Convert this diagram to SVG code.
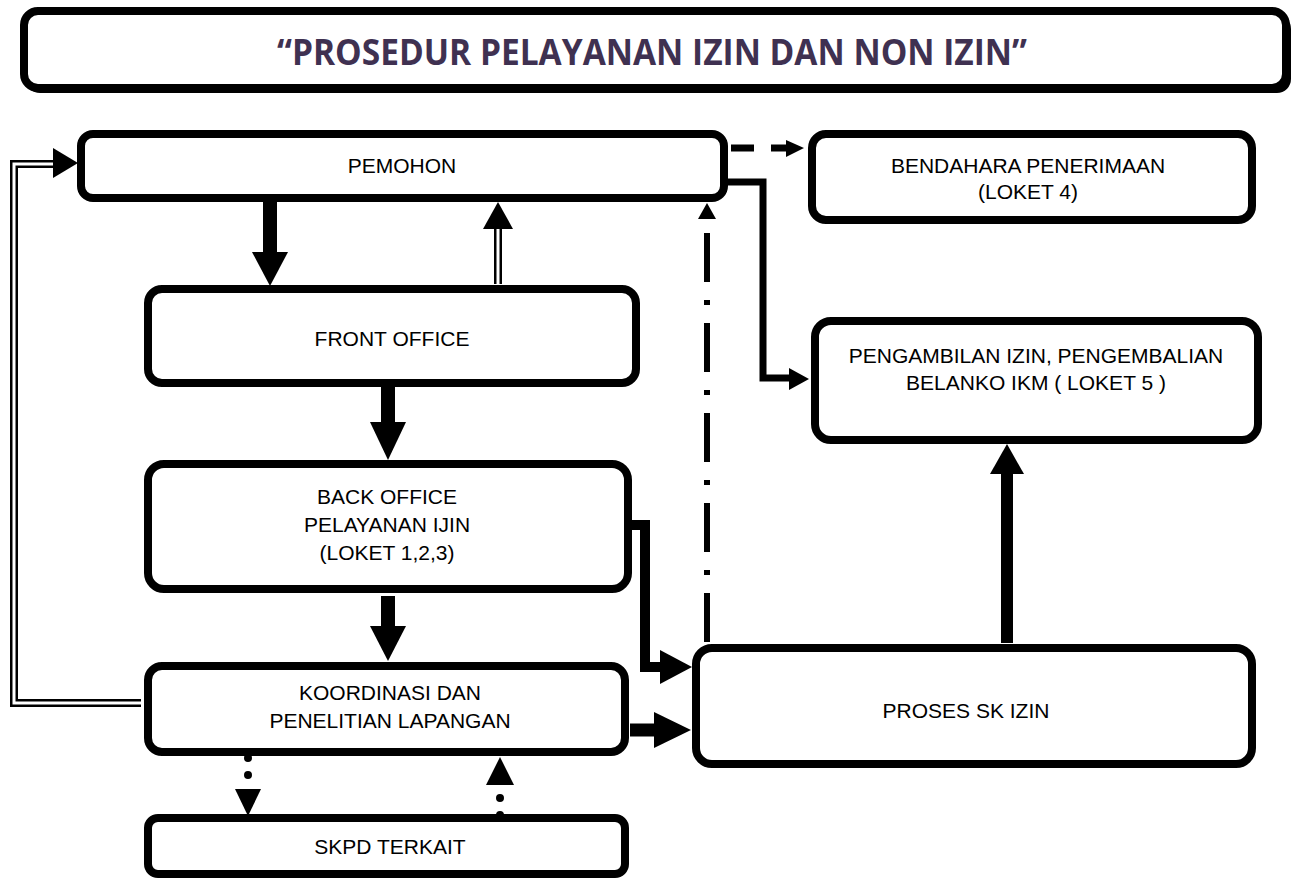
<svg xmlns="http://www.w3.org/2000/svg" width="1297" height="878" viewBox="0 0 1297 878">
<style>
.box{fill:#fff;stroke:#000;stroke-width:8}
.t{font-family:"Liberation Sans",Arial,sans-serif;font-size:21px;fill:#000;text-anchor:middle}
.title{font-family:"Open Sans","Liberation Sans",sans-serif;font-weight:bold;font-size:36px;fill:#3f3151;text-anchor:middle}
.dbl-o{fill:none;stroke:#000;stroke-width:8}
.dbl-i{fill:none;stroke:#fff;stroke-width:3}
.head{fill:#000}
</style>
<g id="title">
<rect x="26" y="15" width="1265" height="78" rx="14" fill="#000"/>
<rect x="24" y="11" width="1262" height="77" rx="14" class="box"/>
<text x="652" y="65" class="title" textLength="750" lengthAdjust="spacingAndGlyphs">“PROSEDUR PELAYANAN IZIN DAN NON IZIN”</text>
</g>
<g id="connectors">
<line x1="270" y1="200" x2="270" y2="254" stroke="#000" stroke-width="14"/>
<polygon class="head" points="252,252 288,252 270,286"/>
<line x1="498" y1="284" x2="498" y2="226" class="dbl-o"/>
<line x1="498" y1="285" x2="498" y2="225" class="dbl-i"/>
<polygon class="head" points="483,229 513,229 498,202"/>
<line x1="388" y1="386" x2="388" y2="424" stroke="#000" stroke-width="14"/>
<polygon class="head" points="370,422 406,422 388,460"/>
<line x1="388" y1="596" x2="388" y2="628" stroke="#000" stroke-width="14"/>
<polygon class="head" points="370,626 406,626 388,661"/>
<path d="M141,703 H14 V164 H58" class="dbl-o"/>
<path d="M142,703 H14 V164 H58" class="dbl-i"/>
<polygon class="head" points="53,148 53,178 78,163"/>
<line x1="731" y1="148" x2="790" y2="148" stroke="#000" stroke-width="7" stroke-dasharray="23 17"/>
<polygon class="head" points="786,140 786,157 804,148"/>
<path d="M728,182 H763 V378 H792" fill="none" stroke="#000" stroke-width="7"/>
<polygon class="head" points="789,368 789,390 809,379"/>
<path d="M630,525 H645 V667 H662" fill="none" stroke="#000" stroke-width="10"/>
<polygon class="head" points="660,650 660,684 692,667"/>
<line x1="630" y1="730" x2="656" y2="730" stroke="#000" stroke-width="13"/>
<polygon class="head" points="654,712 654,748 691,730"/>
<line x1="707" y1="642" x2="707" y2="220" stroke="#000" stroke-width="6" stroke-dasharray="49 18 5 18"/>
<polygon class="head" points="698,219 716,219 707,203"/>
<line x1="1007" y1="643" x2="1007" y2="470" stroke="#000" stroke-width="12"/>
<polygon class="head" points="990,474 1024,474 1007,444"/>
<line x1="248" y1="758" x2="248" y2="780" stroke="#000" stroke-width="8" stroke-linecap="round" stroke-dasharray="0 17"/>
<polygon class="head" points="235,789 261,789 248,816"/>
<line x1="500" y1="815" x2="500" y2="797" stroke="#000" stroke-width="8" stroke-linecap="round" stroke-dasharray="0 17"/>
<polygon class="head" points="486,785 514,785 500,757"/>
</g>
<g id="pemohon">
<rect x="81" y="134" width="643" height="64" rx="12" class="box"/>
<text x="402" y="173" class="t">PEMOHON</text>
</g>
<g id="bendahara">
<rect x="812" y="134" width="440" height="86" rx="14" class="box"/>
<text x="1028" y="173" class="t">BENDAHARA PENERIMAAN</text>
<text x="1028" y="199" class="t">(LOKET 4)</text>
</g>
<g id="front-office">
<rect x="148" y="289" width="488" height="94" rx="14" class="box"/>
<text x="392" y="346" class="t">FRONT OFFICE</text>
</g>
<g id="pengambilan">
<rect x="815" y="321" width="443" height="119" rx="16" class="box"/>
<text x="1036" y="363" class="t">PENGAMBILAN IZIN, PENGEMBALIAN</text>
<text x="1036" y="390" class="t">BELANKO IKM ( LOKET 5 )</text>
</g>
<g id="back-office">
<rect x="148" y="464" width="480" height="125" rx="16" class="box"/>
<text x="387" y="504" class="t">BACK OFFICE</text>
<text x="387" y="532" class="t">PELAYANAN IJIN</text>
<text x="387" y="560" class="t">(LOKET 1,2,3)</text>
</g>
<g id="koordinasi">
<rect x="148" y="666" width="477" height="86" rx="14" class="box"/>
<text x="390" y="700" class="t">KOORDINASI DAN</text>
<text x="390" y="728" class="t">PENELITIAN LAPANGAN</text>
</g>
<g id="proses">
<rect x="696" y="648" width="556" height="116" rx="16" class="box"/>
<text x="966" y="718" class="t">PROSES SK IZIN</text>
</g>
<g id="skpd">
<rect x="148" y="818" width="477" height="56" rx="10" class="box"/>
<text x="390" y="854" class="t">SKPD TERKAIT</text>
</g>
</svg>
